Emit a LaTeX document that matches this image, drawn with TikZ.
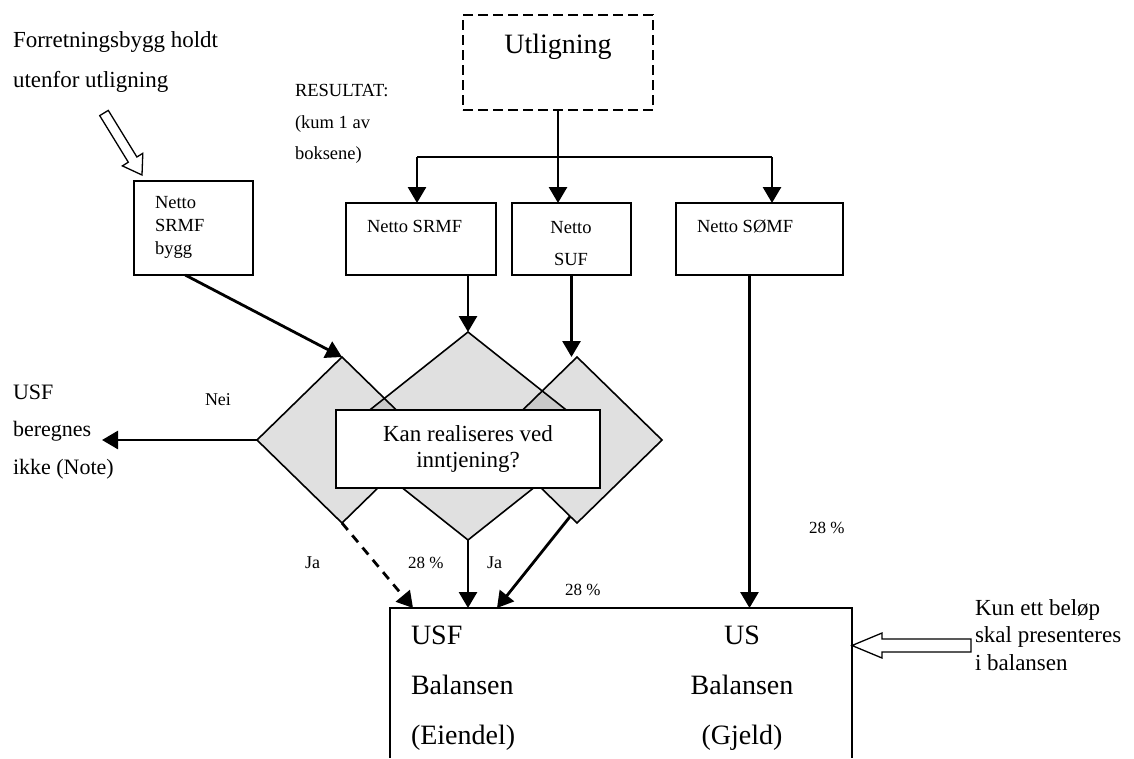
\documentclass[tikz,border=0pt]{standalone}
\usepackage{fontspec}
\setmainfont{Liberation Serif}
\usetikzlibrary{arrows.meta,shapes.geometric,calc}
\definecolor{diafill}{RGB}{224,224,224}
\definecolor{diaover}{RGB}{202,202,202}
\begin{document}
\begin{tikzpicture}[x=1pt,y=-1pt,
  box/.style={draw, line width=1.6pt, inner sep=0pt, outer sep=0pt},
  dia/.style={diamond, inner sep=0pt, outer sep=0pt},
  diaedge/.style={line width=1.6pt, line join=miter},
  conn/.style={line width=2.8pt},
  arr/.style={line width=2.8pt, -{Triangle[length=16pt,width=18pt]}},
  txt/.style={inner sep=0pt, outer sep=0pt},
  hollow/.style={draw, line width=1.3pt, fill=white}
]
\useasboundingbox (0,0) rectangle (1134,758);

% top dashed box
\node[box, minimum width=190pt, minimum height=95pt, dash pattern=on 10pt off 5pt] (utl) at (558,62.5) {};
\node[txt, anchor=base, font=\fontsize{28}{32}\selectfont] (utltxt) at (558,53) {Utligning};

% left notes
\node[txt, anchor=west, align=left, font=\fontsize{23}{40}\selectfont] (forr) at (13,62) {Forretningsbygg holdt\\utenfor utligning};
\node[txt, anchor=west, align=left, font=\fontsize{18.5}{31.5}\selectfont] (res) at (295,124) {RESULTAT:\\(kum 1 av\\boksene)};

% boxes
\node[box, minimum width=119pt, minimum height=94pt] (bygg) at (193.5,228) {};
\node[txt, anchor=west, align=left, font=\fontsize{18.5}{23}\selectfont] (byggtxt) at (155,227) {Netto\\SRMF\\bygg};
\node[box, minimum width=150pt, minimum height=72pt] (srmf) at (421,239) {};
\node[txt, anchor=base west, font=\fontsize{18.5}{22}\selectfont] (srmftxt) at (367,232) {Netto SRMF};
\node[box, minimum width=119pt, minimum height=72pt] (suf) at (571.5,239) {};
\node[txt, anchor=center, align=center, font=\fontsize{18.5}{32}\selectfont] (suftxt) at (571,243.5) {Netto\\SUF};
\node[box, minimum width=167pt, minimum height=72pt] (somf) at (759.5,239) {};
\node[txt, anchor=base west, font=\fontsize{18.5}{22}\selectfont] (somftxt) at (697,232) {Netto SØMF};

% hollow arrow top-left
\draw[hollow] (99.7,115.6) -- (108.3,110.4) -- (136.9,157.0) -- (142.8,153.3) -- (142,175) -- (122.4,165.9) -- (128.3,162.2) -- cycle;

% distribution lines
\coordinate (jl) at (417,157);
\coordinate (jr) at (772,157);
\draw[conn] (utl.south) -- (utl.south |- jl);
\draw[conn] (jl) -- (jr);
\draw[arr] (jl) -- (jl |- srmf.north);
\draw[arr] (utl.south |- jl) -- (utl.south |- suf.north);
\draw[arr] (jr) -- (jr |- somf.north);

% diamonds (shapes)
\node[dia, minimum width=170pt, minimum height=166pt] (ld) at (342,440) {};
\node[dia, minimum width=262pt, minimum height=208pt] (md) at (468,436) {};
\node[dia, minimum width=170pt, minimum height=166pt] (rd) at (577,440) {};
\def\ldpath{(ld.north) -- (ld.east) -- (ld.south) -- (ld.west) -- cycle}
\def\mdpath{(md.north) -- (md.east) -- (md.south) -- (md.west) -- cycle}
\def\rdpath{(rd.north) -- (rd.east) -- (rd.south) -- (rd.west) -- cycle}
\fill[diafill] \ldpath;
\fill[diafill] \mdpath;
\fill[diafill] \rdpath;
\begin{scope}
  \clip \ldpath;
  \fill[diaover] \mdpath;
\end{scope}
\begin{scope}
  \clip \rdpath;
  \fill[diaover] \mdpath;
\end{scope}
\draw[diaedge] \ldpath;
\draw[diaedge] \mdpath;
\draw[diaedge] \rdpath;
\node[box, fill=white, minimum width=264pt, minimum height=78pt, align=center, font=\fontsize{23}{26}\selectfont] (q) at (468,449) {Kan realiseres ved\\inntjening?};

% bottom box
\node[txt, minimum width=462pt, minimum height=150pt] (bal) at (621,683) {};
\draw[line width=1.6pt] (bal.south west) -- (bal.north west) -- (bal.north east) -- (bal.south east);
\node[txt, anchor=west, align=left, font=\fontsize{28}{50}\selectfont] (baltxt1) at (411,688) {USF\\Balansen\\(Eiendel)};
\node[txt, anchor=center, align=center, font=\fontsize{28}{50}\selectfont] (baltxt2) at (742,688) {US\\Balansen\\(Gjeld)};

% connectors
\draw[arr] ($(bygg.south west)!0.43!(bygg.south east)$) -- (ld.north);
\draw[arr] (srmf.south -| md.north) -- (md.north);
\draw[arr] (suf.south) -- (suf.south |- rd.north);
\coordinate (nei) at (102,440);
\draw[arr] (ld.west) -- (nei);
\draw[arr, dash pattern=on 9pt off 7pt] (ld.south) -- ($(bal.north west)+(23,0)$);
\draw[arr] (md.south) -- (md.south |- bal.north);
\draw[arr] ($(rd.south)!0.08!(rd.west)$) -- ($(bal.north west)+(107,0)$);
\coordinate (somfout) at ($(somf.south west)!0.44!(somf.south east)$);
\draw[arr] (somfout) -- (somfout |- bal.north);

% labels
\node[txt, anchor=base west, font=\fontsize{18}{20}\selectfont] (neilbl) at (205,405) {Nei};
\node[txt, anchor=west, align=left, font=\fontsize{22}{37.5}\selectfont] (usfnote) at (13,432) {USF\\beregnes\\ikke (Note)};
\node[txt, anchor=base west, font=\fontsize{18}{20}\selectfont] (ja1) at (305,568) {Ja};
\node[txt, anchor=base west, font=\fontsize{18}{20}\selectfont] (ja2) at (487,568) {Ja};
\node[txt, anchor=base west, font=\fontsize{17}{20}\selectfont] (p1) at (408,568) {28 \%};
\node[txt, anchor=base west, font=\fontsize{17}{20}\selectfont] (p2) at (565,595) {28 \%};
\node[txt, anchor=base west, font=\fontsize{17}{20}\selectfont] (p3) at (809,533) {28 \%};

% right note with hollow arrow
\node[txt, anchor=west, align=left, font=\fontsize{23}{27.5}\selectfont] (kun) at (975,635) {Kun ett beløp\\skal presenteres\\i balansen};
\draw[hollow] (852,645.5) -- (882,633) -- (882,639) -- (971,639) -- (971,652) -- (882,652) -- (882,658) -- cycle;
\end{tikzpicture}
\end{document}
